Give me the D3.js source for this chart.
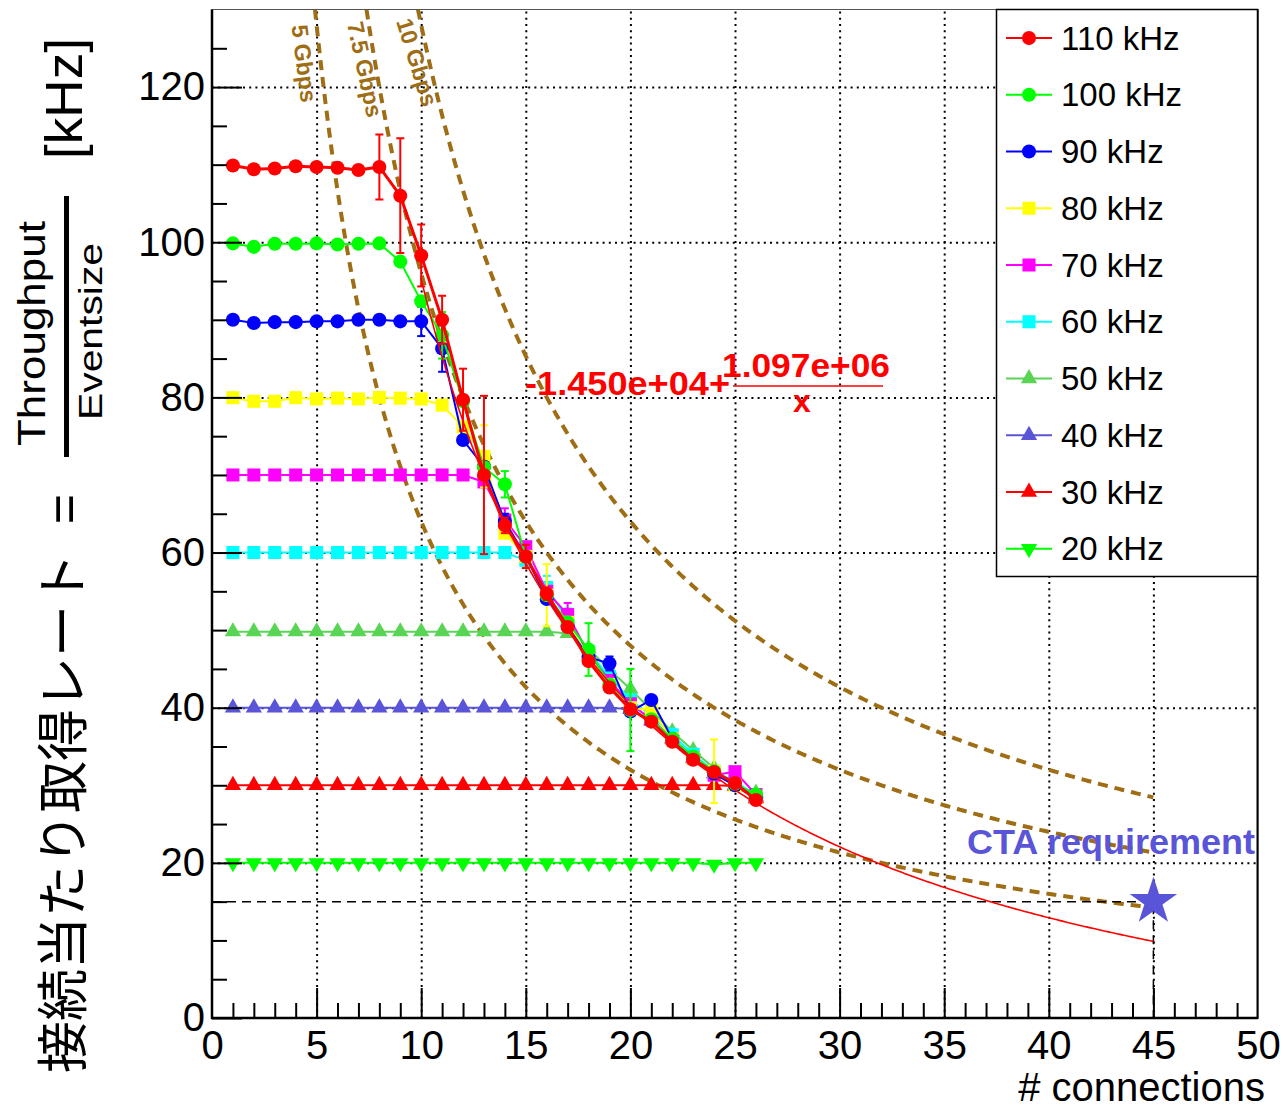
<!DOCTYPE html>
<html>
<head>
<meta charset="utf-8">
<script src="https://cdn.jsdelivr.net/npm/d3@7"></script>
<style>
  body { margin: 0; background: #fff; }
  svg { display: block; font-family: "Liberation Sans", Arial, sans-serif; }
</style>
</head>
<body>
<svg width="1283" height="1108"></svg>
<script>
// ---- data ----
const connections = [1,2,3,4,5,6,7,8,9,10,11,12,13,14,15,16,17,18,19,20,21,22,23,24,25,26];

const rate110 = [109.9,109.4,109.5,109.8,109.7,109.6,109.3,109.7,106.0,98.3,90.0,79.7,70.0,63.5,59.5,54.7,50.4,46.0,42.6,39.8,38.2,35.6,33.3,31.7,30.3,28.1];
const err110  = [0,0,0,0,0,0,0,4.2,7.4,4.0,3.1,4.0,10.2,1.0,1.5,0.8,0.6,0.6,0.5,0.5,0.5,0.4,0.4,0.4,0.4,0.3];
const rate100 = [99.85,99.4,99.8,99.8,99.85,99.7,99.8,99.85,97.5,92.4,88.0,79.5,71.0,68.8,59.5,54.5,51.0,47.5,43.0,39.7,38.5,36.0,33.7,31.8,30.2,28.8];
const err100  = [0,0,0,0,0,0,0,0,0,0,3.0,0,0,1.7,0,0,0,3.4,0,5.3,0,0,0,0,0,0];
const rate90  = [90.0,89.6,89.7,89.7,89.8,89.8,90.0,90.0,89.8,89.8,86.3,74.5,71.1,64.0,59.5,54.0,50.5,46.5,45.7,39.5,41.0,36.0,33.5,31.5,30.0,28.5];
const err90   = [0,0,0,0,0,0,0,0,0,1.9,3.0,0,0,1.0,0,0,0,0,0.9,0,0,0,0,0,0,0];
const rate80  = [79.96,79.5,79.5,79.96,79.8,79.9,79.8,80.0,79.9,79.8,79.0,76.2,72.4,62.5,59.5,54.5,51.0,46.5,43.0,40.0,39.7,36.0,33.5,31.8,30.0,28.5];
const err80   = [0,0,0,0,0,0,0,0,0,0,0,0,4.0,0,0,4.0,0,0,0,0,0,0,0,4.1,0,0];
const rate70  = [70,70,70,70,70,70,70,70,70,70,70,70,69.1,64.2,60.75,55.0,52.0,47.0,43.5,40.5,38.5,36.0,33.5,31.3,31.75,28.8];
const err70   = [0,0,0,0,0,0,0,0,0,0,0,0,0,1.5,0,0,1.5,0,0,0,0,0,0,0,0,0];
const rate60  = [60,60,60,60,60,60,60,60,60,60,60,60,60,60,59.0,55.5,51.3,47.2,44.0,41.0,39.0,36.5,34.0,31.8,30.5,28.7];
const err60   = [0,0,0,0,0,0,0,0,0,0,0,0,0,0,0,1.5,1.5,0,0,0,0,0.8,0,0,0,0];
const rate50  = [49.8,49.8,49.8,49.8,49.8,49.8,49.8,49.8,49.8,49.8,49.8,49.8,49.8,49.8,49.8,49.8,49.6,47.6,44.9,42.4,39.7,36.9,34.5,32.2,30.0,29.0];
const rate40  = [40,40,40,40,40,40,40,40,40,40,40,40,40,40,40,40,40,40,40,39.8,38.3,36.0,33.5,31.5,30.0,28.5];
const rate30  = [30,30,30,30,30,30,30,30,30,30,30,30,30,30,30,30,30,30,30,30,30,30,30,30,29.9,28.3];
const rate20  = [20,20,20,20,20,20,20,20,20,20,20,20,20,20,20,20,20,20,20,20,20,20,20,19.8,20,20];

const seriesLabels = ["110 kHz","100 kHz","90 kHz","80 kHz","70 kHz","60 kHz","50 kHz","40 kHz","30 kHz","20 kHz"];

// bandwidth limits (rate = kHzPerGbps * Gbps / connections)
const gbpsValues = [5, 7.5, 10];
const gbpsLabels = ["5 Gbps", "7.5 Gbps", "10 Gbps"];
const kHzPerGbps = 128;

// fit: p0 + p1/x  (Hz)
const fitP0 = -1.450e+04;
const fitP1 = 1.097e+06;
const fitRange = [10, 45];

// CTA requirement
const ctaConnections = 45;
const ctaRate = 15;

const xTicks = [0,5,10,15,20,25,30,35,40,45,50];
const yTicks = [0,20,40,60,80,100,120];

// ---- layout ----
const svg = d3.select("svg");
const x = d3.scaleLinear([0, 50], [212, 1258]);
const y = d3.scaleLinear([0, 130], [1018, 9.5]);
const brown = "#9e6d14";
const ctaBlue = "#5954d8";

const styles = [
  {color: "#ff0000", shape: "circle", width: 3},
  {color: "#00ff00", shape: "circle", width: 2},
  {color: "#0000ff", shape: "circle", width: 2},
  {color: "#ffff00", shape: "square", width: 2},
  {color: "#ff00ff", shape: "square", width: 2},
  {color: "#00ffff", shape: "square", width: 2},
  {color: "#59d454", shape: "triangle", width: 2},
  {color: ctaBlue,   shape: "triangle", width: 2},
  {color: "#ff0000", shape: "triangle", width: 2},
  {color: "#00ff00", shape: "triangleDown", width: 2}
];
const rates = [rate110, rate100, rate90, rate80, rate70, rate60, rate50, rate40, rate30, rate20];
const errs = [err110, err100, err90, err80, err70, err60, null, null, null, null];

const series = seriesLabels.map((label, i) => ({
  label,
  ...styles[i],
  points: connections.map((c, j) => ({x: c, y: rates[i][j], e: errs[i] ? errs[i][j] : 0}))
}));

svg.append("defs").append("clipPath").attr("id", "plot")
  .append("rect").attr("x", 212).attr("y", 9.5).attr("width", 1046).attr("height", 1008.5);

// grid
svg.append("g").attr("transform", "translate(0,1018)")
  .call(d3.axisBottom(x).tickValues(xTicks.slice(1, -1)).tickSize(-1008.5).tickFormat(""))
  .call(g => g.select(".domain").remove())
  .selectAll("line").attr("stroke", "#000").attr("stroke-width", 2).attr("stroke-dasharray", "2,4.2");
svg.append("g").attr("transform", "translate(212,0)")
  .call(d3.axisLeft(y).tickValues(yTicks.slice(1)).tickSize(-1046).tickFormat(""))
  .call(g => g.select(".domain").remove())
  .selectAll("line").attr("stroke", "#000").attr("stroke-width", 2).attr("stroke-dasharray", "2,4.2");

const plot = svg.append("g").attr("clip-path", "url(#plot)");

// bandwidth curves
gbpsValues.forEach(g => {
  const k = g * kHzPerGbps;
  const xs = d3.range(k / 130, 45.0001, 0.05);
  plot.append("path")
    .datum(xs)
    .attr("fill", "none")
    .attr("stroke", brown)
    .attr("stroke-width", 4)
    .attr("stroke-dasharray", "10,7")
    .attr("d", d3.line().x(d => x(d)).y(d => y(k / d)));
});

// CTA dashed guides
plot.append("path")
  .attr("d", d3.line()([[x(0), y(ctaRate)], [x(ctaConnections), y(ctaRate)], [x(ctaConnections), y(0)]]))
  .attr("fill", "none").attr("stroke", "#000").attr("stroke-width", 1.5).attr("stroke-dasharray", "9,6");

// series
const symbolFor = s => {
  if (s === "circle") return d3.symbol(d3.symbolCircle, 155)();
  if (s === "square") return d3.symbol(d3.symbolSquare, 170)();
  return d3.symbol(d3.symbolTriangle, 115)();
};
const line = d3.line().x(d => x(d.x)).y(d => y(d.y));

series.slice().reverse().forEach(s => {
  const g = plot.append("g");
  g.append("path").datum(s.points)
    .attr("fill", "none").attr("stroke", s.color).attr("stroke-width", s.width)
    .attr("d", line);
  const eb = g.selectAll(".eb").data(s.points.filter(d => d.e > 0)).enter().append("g")
    .attr("stroke", s.color).attr("stroke-width", 2);
  eb.append("line").attr("x1", d => x(d.x)).attr("x2", d => x(d.x))
    .attr("y1", d => y(d.y - d.e)).attr("y2", d => y(d.y + d.e));
  eb.append("line").attr("x1", d => x(d.x) - 4).attr("x2", d => x(d.x) + 4)
    .attr("y1", d => y(d.y - d.e)).attr("y2", d => y(d.y - d.e));
  eb.append("line").attr("x1", d => x(d.x) - 4).attr("x2", d => x(d.x) + 4)
    .attr("y1", d => y(d.y + d.e)).attr("y2", d => y(d.y + d.e));
  g.selectAll(".m").data(s.points).enter().append("path")
    .attr("d", symbolFor(s.shape))
    .attr("fill", s.color)
    .attr("transform", d => `translate(${x(d.x)},${y(d.y)})` + (s.shape === "triangleDown" ? " rotate(180)" : ""));
});

// fit function
const fitXs = d3.range(fitRange[0], fitRange[1] + 0.0001, 0.1);
plot.append("path").datum(fitXs)
  .attr("fill", "none").attr("stroke", "#ff0000").attr("stroke-width", 1.6)
  .attr("d", d3.line().x(d => x(d)).y(d => y((fitP0 + fitP1 / d) / 1000)));

// star
svg.append("path")
  .attr("d", d3.symbol(d3.symbolStar, 700)())
  .attr("fill", ctaBlue)
  .attr("transform", `translate(${x(ctaConnections)},${y(ctaRate)})`);

// axes
const xMajor = svg.append("g").attr("transform", "translate(0,1018)")
  .call(d3.axisBottom(x).tickValues(xTicks).tickSizeInner(-30).tickSizeOuter(0).tickPadding(13));
const xMinor = svg.append("g").attr("transform", "translate(0,1018)")
  .call(d3.axisBottom(x).tickValues(d3.range(0, 51).filter(v => v % 5)).tickSizeInner(-15).tickSizeOuter(0).tickFormat(""));
const yMajor = svg.append("g").attr("transform", "translate(212,0)")
  .call(d3.axisLeft(y).tickValues(yTicks).tickSizeInner(-30).tickSizeOuter(0).tickPadding(7));
const yMinor = svg.append("g").attr("transform", "translate(212,0)")
  .call(d3.axisLeft(y).tickValues(d3.range(5, 130, 5).filter(v => v % 20)).tickSizeInner(-15).tickSizeOuter(0).tickFormat(""));
[xMajor, xMinor, yMajor, yMinor].forEach(g => {
  g.select(".domain").remove();
  g.selectAll("line").attr("stroke", "#000").attr("stroke-width", 2);
  g.selectAll("text").attr("font-size", 40).attr("fill", "#000").attr("font-family", "'Liberation Sans', Arial, sans-serif");
});
xMajor.selectAll(".tick").filter(d => d === 0 || d === 50).select("line").remove();

// frame
svg.append("rect").attr("x", 212).attr("y", 9.5).attr("width", 1046).attr("height", 1008.5)
  .attr("fill", "none").attr("stroke", "#555").attr("stroke-width", 1);
svg.append("line").attr("x1", 212).attr("x2", 212).attr("y1", 9.5).attr("y2", 1019).attr("stroke", "#000").attr("stroke-width", 2.5);
svg.append("line").attr("x1", 211).attr("x2", 1258).attr("y1", 1018).attr("y2", 1018).attr("stroke", "#000").attr("stroke-width", 2.5);
svg.append("line").attr("x1", 1257.5).attr("x2", 1257.5).attr("y1", 9.5).attr("y2", 1019).attr("stroke", "#000").attr("stroke-width", 2);

// Gbps labels
const gbpsPos = [[3.8, 127.9, 83], [6.45, 128.2, 78], [8.8, 128.5, 73]];
gbpsLabels.forEach((t, i) => {
  const [px, py, a] = gbpsPos[i];
  svg.append("text")
    .attr("transform", `translate(${x(px)},${y(py)}) rotate(${a})`)
    .attr("font-size", 23).attr("font-weight", "bold").attr("fill", brown)
    .text(t);
});

// fit formula
const formula = svg.append("g").attr("fill", "#ff0000").attr("font-weight", "bold").attr("font-size", 34);
formula.append("text").attr("x", 525).attr("y", 395).attr("textLength", 205).attr("lengthAdjust", "spacingAndGlyphs").text("-1.450e+04+");
formula.append("text").attr("x", 722).attr("y", 377).attr("textLength", 168).attr("lengthAdjust", "spacingAndGlyphs").text("1.097e+06");
formula.append("line").attr("x1", 733).attr("x2", 883).attr("y1", 386).attr("y2", 386).attr("stroke", "#ff0000").attr("stroke-width", 1.5);
formula.append("text").attr("x", 802).attr("y", 412).attr("font-size", 32).attr("text-anchor", "middle").text("x");

// CTA label
svg.append("text").attr("x", 967).attr("y", 854)
  .attr("font-size", 35).attr("font-weight", "bold").attr("fill", ctaBlue)
  .attr("textLength", 288).attr("lengthAdjust", "spacingAndGlyphs")
  .text("CTA requirement");

// x title
svg.append("text").attr("x", 1265).attr("y", 1101).attr("text-anchor", "end")
  .attr("font-size", 40).text("# connections");

// y title
const yt = svg.append("g").attr("transform", "translate(82,1073) rotate(-90)").attr("fill", "#000");
yt.append("text").attr("x", 0).attr("y", 0)
  .attr("font-family", "'Noto Sans CJK JP', sans-serif").attr("font-size", 52)
  .attr("textLength", 520).attr("lengthAdjust", "spacingAndGlyphs")
  .text("接続当たり取得レート");
yt.append("text").attr("x", 564).attr("y", 0).attr("text-anchor", "middle").attr("font-size", 52).text("=");
yt.append("rect").attr("x", 616).attr("y", -18).attr("width", 261).attr("height", 5);
yt.append("text").attr("x", 627).attr("y", -37).attr("font-size", 38)
  .attr("textLength", 225).attr("lengthAdjust", "spacingAndGlyphs").text("Throughput");
yt.append("text").attr("x", 653).attr("y", 20).attr("font-size", 34)
  .attr("textLength", 177).attr("lengthAdjust", "spacingAndGlyphs").text("Eventsize");
yt.append("text").attr("x", 914).attr("y", 0).attr("font-size", 52)
  .attr("textLength", 121).attr("lengthAdjust", "spacingAndGlyphs").text("[kHz]");

// legend
const lg = svg.append("g");
lg.append("rect").attr("x", 996.5).attr("y", 9.5).attr("width", 261).attr("height", 567)
  .attr("fill", "#fff").attr("stroke", "#000").attr("stroke-width", 1.5);
const rows = lg.selectAll(".row").data(series).enter().append("g")
  .attr("transform", (d, i) => `translate(0,${38 + i * 56.75})`);
rows.append("line").attr("x1", 1006).attr("x2", 1052).attr("stroke", d => d.color).attr("stroke-width", 2);
rows.append("path").attr("d", d => symbolFor(d.shape)).attr("fill", d => d.color)
  .attr("transform", d => "translate(1029,0)" + (d.shape === "triangleDown" ? " rotate(180)" : ""));
rows.append("text").attr("x", 1061).attr("y", 11.5).attr("font-size", 33).text(d => d.label);
</script>
</body>
</html>
